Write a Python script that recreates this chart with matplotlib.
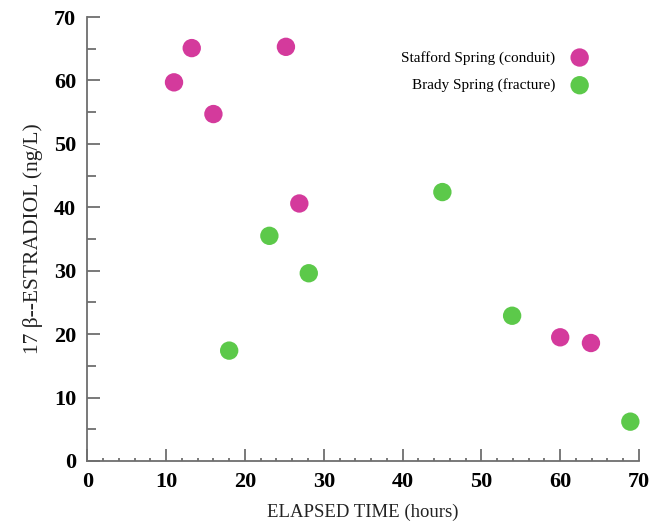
import matplotlib.pyplot as plt
from matplotlib.ticker import MultipleLocator

# elapsed time (hours) and 17 beta-estradiol (ng/L)
stafford_time = [11.0, 13.25, 16.0, 25.2, 26.9, 60.0, 63.9]
stafford_e2 = [59.7, 65.1, 54.7, 65.3, 40.6, 19.5, 18.6]

brady_time = [18.0, 23.1, 28.1, 45.05, 53.9, 68.9]
brady_e2 = [17.4, 35.5, 29.6, 42.4, 22.9, 6.2]

MAGENTA = "#d43a9c"
GREEN = "#5cc94a"
AXIS_GREY = "#6e6e6e"

plt.rcParams["font.family"] = ["Liberation Serif", "DejaVu Serif"]

fig = plt.figure(figsize=(6.55, 5.22), dpi=100)
ax = fig.add_axes([0.1333, 0.1169, 0.8423, 0.8505])

ax.scatter(stafford_time, stafford_e2, s=175, color=MAGENTA, edgecolors="none",
           label="Stafford Spring (conduit)", zorder=3, clip_on=False)
ax.scatter(brady_time, brady_e2, s=175, color=GREEN, edgecolors="none",
           label="Brady Spring (fracture)", zorder=3, clip_on=False)

ax.set_xlim(0, 70)
ax.set_ylim(0, 70)

ax.xaxis.set_major_locator(MultipleLocator(10))
ax.xaxis.set_minor_locator(MultipleLocator(2))
ax.yaxis.set_major_locator(MultipleLocator(10))
ax.yaxis.set_minor_locator(MultipleLocator(5))

for side in ("top", "right"):
    ax.spines[side].set_visible(False)
for side in ("left", "bottom"):
    ax.spines[side].set_color(AXIS_GREY)
    ax.spines[side].set_linewidth(1.3)

ax.tick_params(axis="x", which="major", direction="in", length=8.5, width=1.3,
               color=AXIS_GREY, pad=8, labelsize=16)
ax.tick_params(axis="x", which="minor", direction="in", length=2.5, width=1.3,
               color=AXIS_GREY)
ax.tick_params(axis="y", which="major", direction="in", length=9, width=1.3,
               color=AXIS_GREY, pad=8, labelsize=16)
ax.tick_params(axis="y", which="minor", direction="in", length=6.8, width=1.3,
               color=AXIS_GREY)
for lbl in ax.get_xticklabels() + ax.get_yticklabels():
    lbl.set_fontweight("bold")

ax.set_xlabel("ELAPSED TIME (hours)", fontsize=13.5, color="#222222", labelpad=8)
ax.set_ylabel("17 β--ESTRADIOL (ng/L)", fontsize=15.5, color="#222222", labelpad=8)

ax.legend(loc="upper right", bbox_to_anchor=(0.945, 0.955), frameon=False,
          markerfirst=False, fontsize=11, handletextpad=0.6, labelspacing=0.9,
          scatterpoints=1)

fig.savefig("out.png", dpi=100)
